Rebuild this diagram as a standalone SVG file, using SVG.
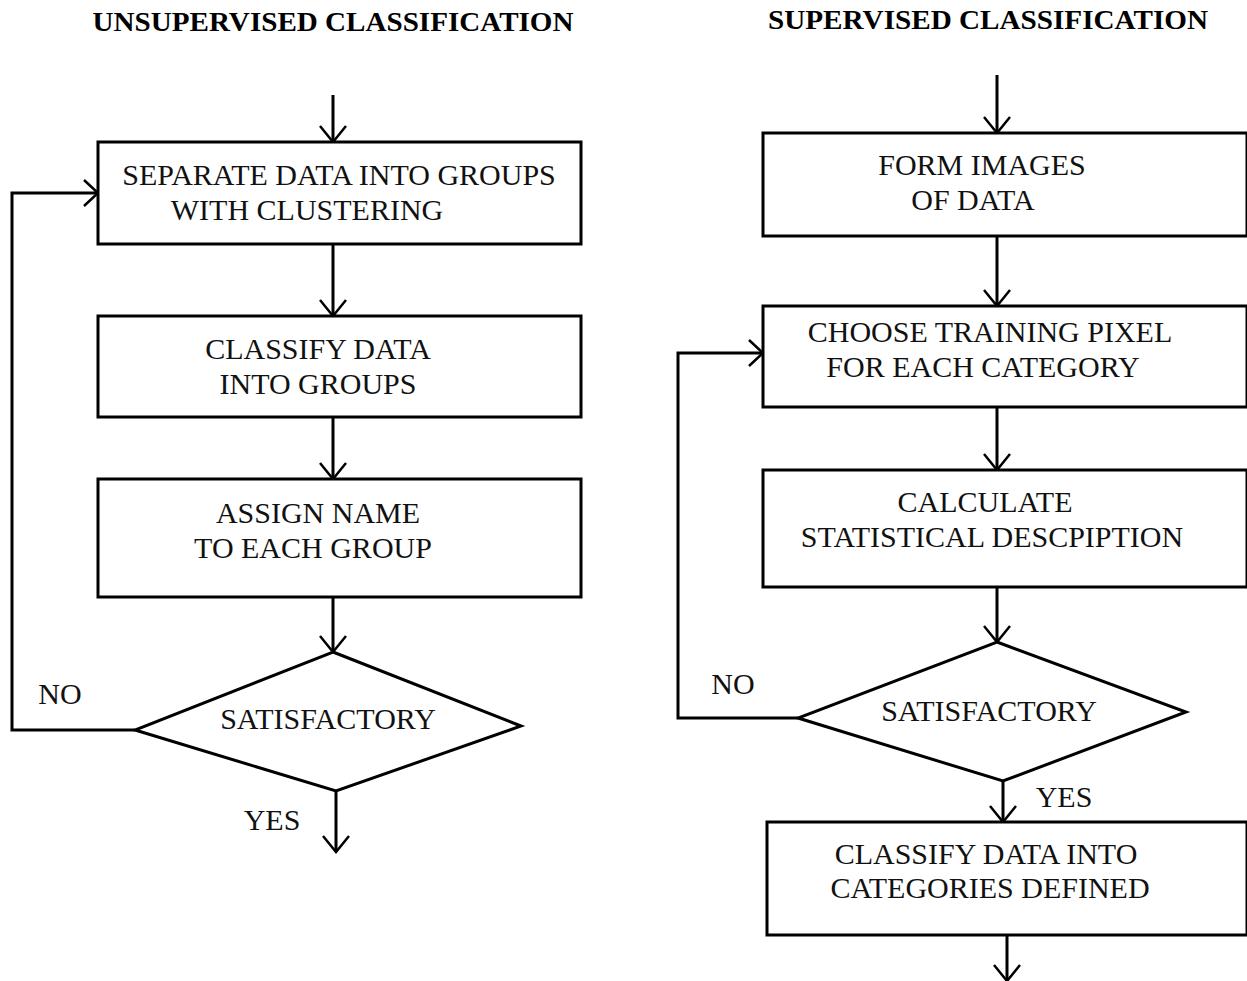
<svg xmlns="http://www.w3.org/2000/svg" width="1247" height="981" viewBox="0 0 1247 981">
<defs>
<style>
.bx{fill:#fff;stroke:#000;stroke-width:3}
.ln{fill:none;stroke:#000;stroke-width:3}
.ah{fill:none;stroke:#000;stroke-width:2.5}
.t{font-family:"Liberation Serif","Times New Roman",serif;font-size:30px;fill:#111;text-anchor:middle}
.h{font-family:"Liberation Serif","Times New Roman",serif;font-size:27px;font-weight:bold;fill:#000;text-anchor:middle}
</style>
</defs>
<rect width="1247" height="981" fill="#fff"/>
<text class="h" x="333" y="31" textLength="481" lengthAdjust="spacingAndGlyphs">UNSUPERVISED CLASSIFICATION</text>
<text class="h" x="988" y="29" textLength="440" lengthAdjust="spacingAndGlyphs">SUPERVISED CLASSIFICATION</text>

<g id="connectors">
<path class="ln" d="M333,95 V142"/>
<path class="ah" d="M320,126 L333,142 L346,126"/>
<path class="ln" d="M333,244 V316"/>
<path class="ah" d="M320,300 L333,316 L346,300"/>
<path class="ln" d="M333,417 V479"/>
<path class="ah" d="M320,463 L333,479 L346,463"/>
<path class="ln" d="M333,597 V652"/>
<path class="ah" d="M320,636 L333,652 L346,636"/>
<path class="ln" d="M135,730 H12 V193 H98"/>
<path class="ah" d="M84,180 L98,193 L84,206"/>
<path class="ln" d="M336,791 V852"/>
<path class="ah" d="M323,836 L336,852 L349,836"/>

<path class="ln" d="M997,75 V133"/>
<path class="ah" d="M984,117 L997,133 L1010,117"/>
<path class="ln" d="M997,236 V306"/>
<path class="ah" d="M984,290 L997,306 L1010,290"/>
<path class="ln" d="M997,407 V470"/>
<path class="ah" d="M984,454 L997,470 L1010,454"/>
<path class="ln" d="M997,587 V642"/>
<path class="ah" d="M984,626 L997,642 L1010,626"/>
<path class="ln" d="M798,718 H678 V353 H763"/>
<path class="ah" d="M749,340 L763,353 L749,366"/>
<path class="ln" d="M1003,781 V822"/>
<path class="ah" d="M990,806 L1003,822 L1016,806"/>
<path class="ln" d="M1007,935 V981"/>
<path class="ah" d="M994,965 L1007,981 L1020,965"/>
</g>

<g id="u1"><rect class="bx" x="98" y="142" width="483" height="102"/>
<text class="t" x="339" y="185">SEPARATE DATA INTO GROUPS</text>
<text class="t" x="307" y="220">WITH CLUSTERING</text></g>
<g id="u2"><rect class="bx" x="98" y="316" width="483" height="101"/>
<text class="t" x="318" y="359">CLASSIFY DATA</text>
<text class="t" x="318" y="394">INTO GROUPS</text></g>
<g id="u3"><rect class="bx" x="98" y="479" width="483" height="118"/>
<text class="t" x="318" y="523">ASSIGN NAME</text>
<text class="t" x="313" y="558">TO EACH GROUP</text></g>
<g id="u4"><polygon class="bx" points="333,652 521,726 336,791 135,730"/>
<text class="t" x="328" y="729">SATISFACTORY</text></g>
<g id="u-labels">
<text class="t" x="60" y="704">NO</text>
<text class="t" x="272" y="830">YES</text></g>

<g id="s1"><rect class="bx" x="763" y="133" width="484" height="103"/>
<text class="t" x="982" y="175">FORM IMAGES</text>
<text class="t" x="973" y="210">OF DATA</text></g>
<g id="s2"><rect class="bx" x="763" y="306" width="484" height="101"/>
<text class="t" x="990" y="342">CHOOSE TRAINING PIXEL</text>
<text class="t" x="983" y="377">FOR EACH CATEGORY</text></g>
<g id="s3"><rect class="bx" x="763" y="470" width="484" height="117"/>
<text class="t" x="985" y="512">CALCULATE</text>
<text class="t" x="992" y="547">STATISTICAL DESCPIPTION</text></g>
<g id="s4"><polygon class="bx" points="997,642 1186,712 1003,781 798,718"/>
<text class="t" x="989" y="721">SATISFACTORY</text></g>
<g id="s5"><rect class="bx" x="767" y="822" width="480" height="113"/>
<text class="t" x="986" y="864">CLASSIFY DATA INTO</text>
<text class="t" x="990" y="898">CATEGORIES DEFINED</text></g>
<g id="s-labels">
<text class="t" x="733" y="694">NO</text>
<text class="t" x="1064" y="807">YES</text></g>
</svg>
